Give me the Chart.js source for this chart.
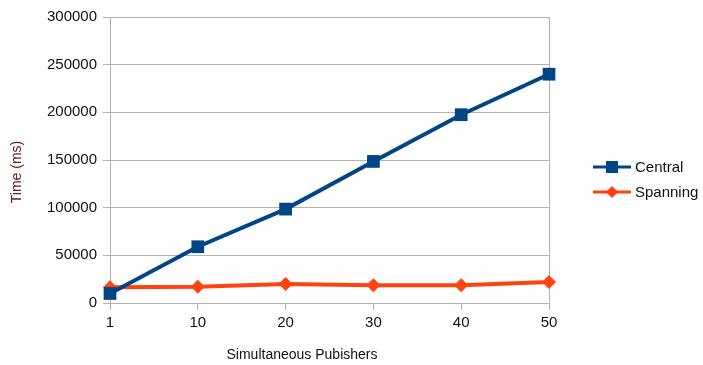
<!DOCTYPE html>
<html lang="en">
<head>
  <meta charset="UTF-8" />
  <title>Central vs Spanning</title>
  <script src="https://cdn.jsdelivr.net/npm/chart.js"></script>
  <style>
    body {
      margin: 0;
      background: #fff;
      font-family: 'Liberation Sans', Arial, sans-serif;
    }

    .wrap {
      position: relative;
      width: 703px;
      height: 365px;
    }

    .legend {
      position: absolute;
      left: 593px;
      top: 154px;
      font-size: 15px;
      color: #111;
    }

    .legend .item {
      display: flex;
      align-items: center;
      height: 25px;
    }

    .legend canvas {
      margin-right: 4px;
    }
  </style>
</head>
<body>
  <div class="wrap">
    <canvas id="timeChart" width="703" height="365"></canvas>
    <div class="legend" id="legend"></div>
  </div>

  <script>
    const publishers = ['1', '10', '20', '30', '40', '50'];
    const centralTimes = [10000, 59000, 98500, 148500, 197500, 240000];
    const spanningTimes = [16500, 17000, 20000, 18500, 18500, 22000];
    const seriesNames = ['Central', 'Spanning'];
    const seriesColors = ['#004586', '#ff420e'];
    const yTitle = 'Time (ms)';
    const xTitle = 'Simultaneous Pubishers';

    const gridColor = '#b3b3b3';

    // axis titles, placed the way the office chart places them
    const axisTitles = {
      id: 'axisTitles',
      afterDraw(chart) {
        const c = chart.ctx;
        c.save();
        c.font = '14px "Liberation Sans", Arial, sans-serif';
        c.textAlign = 'center';
        c.textBaseline = 'middle';
        c.fillStyle = '#111';
        c.fillText(xTitle, 302, 355);
        c.translate(17, 172);
        c.rotate(-Math.PI / 2);
        c.fillStyle = '#6b2020';
        c.fillText(yTitle, 0, 0);
        c.restore();
      }
    };

    const ctx = document.getElementById('timeChart').getContext('2d');
    const chart = new Chart(ctx, {
      type: 'line',
      data: {
        labels: publishers,
        datasets: [{
          label: seriesNames[0],
          data: centralTimes,
          borderColor: seriesColors[0],
          backgroundColor: seriesColors[0],
          borderWidth: 4,
          pointStyle: 'rect',
          pointRadius: 9,
          pointBorderWidth: 0,
          tension: 0
        }, {
          label: seriesNames[1],
          data: spanningTimes,
          borderColor: seriesColors[1],
          backgroundColor: seriesColors[1],
          borderWidth: 4,
          pointStyle: 'rectRot',
          pointRadius: 7,
          pointBorderWidth: 0,
          tension: 0
        }]
      },
      options: {
        responsive: false,
        animation: false,
        layout: { padding: { top: 17, right: 154, left: 0, bottom: 0 } },
        plugins: {
          legend: { display: false },
          tooltip: { enabled: false }
        },
        scales: {
          x: {
            offset: false,
            afterFit: s => { s.height = 62; },
            grid: {
              color: c => c.index === publishers.length - 1 ? gridColor : 'rgba(0,0,0,0)',
              tickColor: gridColor,
              tickLength: 7,
              lineWidth: 1
            },
            border: { color: gridColor },
            ticks: {
              color: '#111',
              padding: 4,
              maxRotation: 0,
              font: { family: '"Liberation Sans", Arial, sans-serif', size: 15 }
            }
          },
          y: {
            min: 0,
            max: 300000,
            afterFit: s => { s.width = 110; },
            grid: { color: gridColor, tickColor: gridColor, tickLength: 7 },
            border: { color: gridColor },
            ticks: {
              stepSize: 50000,
              color: '#111',
              padding: 6,
              callback: v => String(v),
              font: { family: '"Liberation Sans", Arial, sans-serif', size: 15 }
            }
          }
        }
      },
      plugins: [axisTitles]
    });

    // legend: line with the series marker, then the name
    const legend = document.getElementById('legend');
    chart.data.datasets.forEach(ds => {
      const item = document.createElement('div');
      item.className = 'item';
      const icon = document.createElement('canvas');
      icon.width = 38;
      icon.height = 16;
      const g = icon.getContext('2d');
      g.strokeStyle = ds.borderColor;
      g.fillStyle = ds.borderColor;
      g.lineWidth = 3;
      g.beginPath();
      g.moveTo(0, 8);
      g.lineTo(38, 8);
      g.stroke();
      g.beginPath();
      if (ds.pointStyle === 'rect') {
        g.rect(13, 2, 12, 12);
      } else {
        g.moveTo(19, 2); g.lineTo(25, 8); g.lineTo(19, 14); g.lineTo(13, 8);
        g.closePath();
      }
      g.fill();
      const text = document.createElement('span');
      text.textContent = ds.label;
      item.appendChild(icon);
      item.appendChild(text);
      legend.appendChild(item);
    });
  </script>
</body>
</html>
